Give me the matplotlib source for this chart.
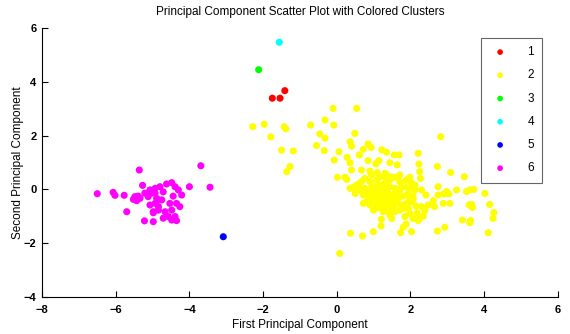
import numpy as np
import matplotlib.pyplot as plt

# cluster 1..5 (small clusters)
c1_x = [-1.75, -1.54, -1.41]
c1_y = [3.39, 3.39, 3.67]
c3_x = [-2.12]
c3_y = [4.45]
c4_x = [-1.56]
c4_y = [5.47]
c5_x = [-3.08]
c5_y = [-1.76]

# cluster 6 (magenta, left group)
c6_x = [-5.36, -6.50, -6.07, -6.02, -5.77, -5.27, -5.70, -5.22, -4.98,
        -5.52, -5.43, -5.48, -5.39, -5.34, -5.21, -5.07, -4.93, -5.12,
        -5.07, -4.93, -4.84, -4.98, -4.84, -3.69, -4.00, -3.44,
        -4.48, -4.62, -4.39, -4.80, -4.93, -4.71, -4.30, -4.21, -4.44,
        -4.89, -4.75, -5.02, -4.53, -4.35, -4.26, -4.84, -4.98, -4.66,
        -4.48, -4.57, -4.39, -4.35, -4.48, -4.71]
c6_y = [0.72, -0.16, -0.11, -0.22, -0.22, 0.15, -0.83, -1.17, -1.20,
        -0.37, -0.42, -0.27, -0.25, -0.33, -0.14, -0.02, -0.14, -0.27,
        -0.58, -0.52, -0.64, -0.87, -0.39, 0.88, 0.10, 0.08,
        0.25, 0.20, 0.10, 0.10, 0.04, -0.09, -0.02, -0.21, -0.25,
        -0.33, -0.39, -0.14, -0.52, -0.52, -0.64, -0.77, -0.83, -0.83,
        -0.77, -1.01, -1.01, -1.16, -1.14, -1.07]

# cluster 2 (yellow, right group)
c2 = [(-2.28, 2.33), (-1.97, 2.42), (-1.43, 2.33), (-1.38, 2.25), (-1.79, 1.95),
      (-1.50, 1.46), (-1.18, 1.43), (-1.27, 0.85), (-1.36, 0.66),
      (-0.10, 3.01), (0.54, 3.01), (-0.71, 2.39), (-0.32, 2.58), (-0.08, 2.39),
      (0.49, 2.08), (-0.46, 2.06), (-0.32, 1.90), (-0.55, 1.63), (-0.34, 1.44),
      (0.06, 1.40), (0.36, 1.77), (0.40, 1.61), (-0.07, 1.09), (0.28, 1.19),
      (0.36, 0.99), (0.72, 1.49), (0.85, 1.69), (0.93, 1.56), (1.22, 1.47),
      (1.35, 1.38), (1.56, 1.28), (1.69, 1.28), (1.64, 0.91), (1.44, 0.99),
      (1.14, 1.07), (1.06, 0.95), (0.85, 1.07), (0.61, 1.28), (2.82, 1.96),
      (2.21, 1.34), (2.23, 0.94), (2.25, 0.66), (2.27, 0.41), (2.73, 0.85),
      (3.09, 0.63), (3.46, 0.47), (1.98, 0.45), (2.03, 0.23), (0.02, 0.45),
      (0.22, 0.45), (0.27, 0.37), (0.36, 0.04), (0.49, 0.10), (0.58, -0.02),
      (0.40, 0.72), (0.67, 0.72), (0.90, 0.68), (1.10, 0.62), (1.31, 0.60),
      (1.44, 0.47), (1.62, 0.45), (1.71, 0.29), (1.85, 0.10), (2.12, -0.02),
      (2.30, -0.02), (2.42, -0.21), (2.75, 0.10), (2.98, -0.08), (3.25, -0.02),
      (3.52, -0.08), (3.61, -0.02), (3.72, 0.00), (4.02, -0.15), (2.75, -0.21),
      (2.91, -0.17), (3.04, -0.17), (2.89, -0.52), (3.07, -0.52), (3.59, -0.58),
      (3.68, -0.67), (3.66, -0.56), (4.15, -0.56), (4.26, -0.86), (4.24, -1.08),
      (3.41, -1.14), (3.61, -1.24), (3.63, -1.16), (4.11, -1.61), (2.93, -1.41),
      (2.73, -1.55), (2.65, -0.64), (2.48, -0.58), (2.30, -0.64), (2.39, -0.79),
      (2.35, -0.99), (2.25, -1.08), (2.21, -1.16), (2.18, -0.87), (2.03, -1.57),
      (1.88, -1.29), (1.80, -1.41), (1.73, -1.61), (1.21, -1.11), (1.20, -1.36),
      (0.99, -1.57), (0.70, -1.73), (0.37, -1.63), (0.08, -2.38),
      (2.62, -0.42), (2.07, -0.37), (2.15, -0.62),
      # dense centre
      (0.45, 0.08), (0.63, -0.02), (0.76, 0.04), (0.90, -0.02), (1.03, 0.10),
      (1.17, 0.16), (1.31, 0.23), (1.44, 0.10), (1.58, 0.04), (1.71, -0.02),
      (0.72, -0.21), (0.85, -0.27), (0.99, -0.15), (1.12, -0.08), (1.26, -0.02),
      (1.40, -0.15), (1.53, -0.21), (1.67, -0.27), (1.80, -0.25), (1.94, -0.15),
      (2.07, -0.25), (0.81, -0.46), (0.94, -0.39), (1.08, -0.33), (1.22, -0.27),
      (1.35, -0.39), (1.49, -0.46), (1.62, -0.52), (1.76, -0.58), (1.89, -0.52),
      (2.03, -0.46), (1.08, -0.58), (1.22, -0.64), (1.35, -0.70), (1.49, -0.64),
      (1.31, -0.52), (1.17, -0.46), (1.26, -0.83), (1.44, -0.95), (1.58, -0.83),
      (1.71, -0.77), (1.85, -0.70), (0.99, -0.77), (1.35, -0.27), (1.22, -0.15),
      (1.44, 0.35), (1.08, 0.35), (0.90, 0.29), (0.67, 0.29), (0.54, 0.16),
      (0.76, 0.41), (0.94, 0.54), (1.17, 0.45), (1.35, 0.41), (1.53, 0.45),
      (1.71, 0.54), (1.89, 0.35), (1.76, 0.16), (1.98, 0.04), (2.12, 0.16),
      (1.12, -0.02), (1.31, 0.04), (1.03, -0.21), (1.40, -0.58), (1.26, -0.39),
      (1.53, -0.33), (1.17, -0.52), (0.90, -0.58), (0.72, -0.52), (1.94, -0.70),
      (1.98, -0.89), (2.07, -1.08), (1.85, -1.01), (1.49, -1.08), (1.98, -0.33),
      (1.00, -0.10), (1.15, -0.25), (1.30, -0.15), (1.45, -0.30), (1.60, -0.10),
      (0.95, 0.10), (1.20, 0.05), (1.25, -0.55), (1.10, -0.70), (1.40, -0.80),
      (1.55, -0.60), (1.65, -0.40), (0.85, -0.10), (0.60, 0.20), (0.50, -0.15)]
c2_x = [p[0] for p in c2]
c2_y = [p[1] for p in c2]

clusters = [(c1_x, c1_y, '#ff0000', '1'),
            (c2_x, c2_y, '#ffff00', '2'),
            (c3_x, c3_y, '#00ff00', '3'),
            (c4_x, c4_y, '#00ffff', '4'),
            (c5_x, c5_y, '#0000ff', '5'),
            (c6_x, c6_y, '#ff00ff', '6')]

plt.rcParams['font.family'] = ['Liberation Sans', 'DejaVu Sans']

fig = plt.figure(figsize=(5.70, 3.34), dpi=100)
ax = fig.add_axes([0.0737, 0.1108, 0.905, 0.8054])

for xs, ys, col, lab in clusters:
    ax.scatter(xs, ys, s=26, c=col, edgecolors='none', label=lab)

ax.set_xlim(-8, 6)
ax.set_ylim(-4, 6)
ax.set_xticks(np.arange(-8, 7, 2))
ax.set_yticks(np.arange(-4, 7, 2))
ax.spines['top'].set_visible(False)
ax.spines['right'].set_visible(False)
ax.tick_params(direction='in', length=4, labelsize=8, width=0.8)
ax.tick_params(axis='x', pad=6)
ax.tick_params(axis='y', pad=4)
for t in ax.get_xticklabels() + ax.get_yticklabels():
    t.set_fontweight('bold')

ax.set_title('Principal Component Scatter Plot with Colored Clusters', fontsize=8.5, pad=9)
ax.set_xlabel('First Principal Component', fontsize=8.5, labelpad=3)
ax.set_ylabel('Second Principal Component', fontsize=8.5, labelpad=0)

leg = ax.legend(loc='upper right', bbox_to_anchor=(0.981, 0.985), fontsize=8.5,
                fancybox=False, edgecolor='0.4', labelspacing=0.95,
                handletextpad=1.4, borderpad=0.7, markerscale=0.8,
                handlelength=1.8, framealpha=1)
leg.get_frame().set_linewidth(0.8)

plt.savefig('out.png', dpi=100)
